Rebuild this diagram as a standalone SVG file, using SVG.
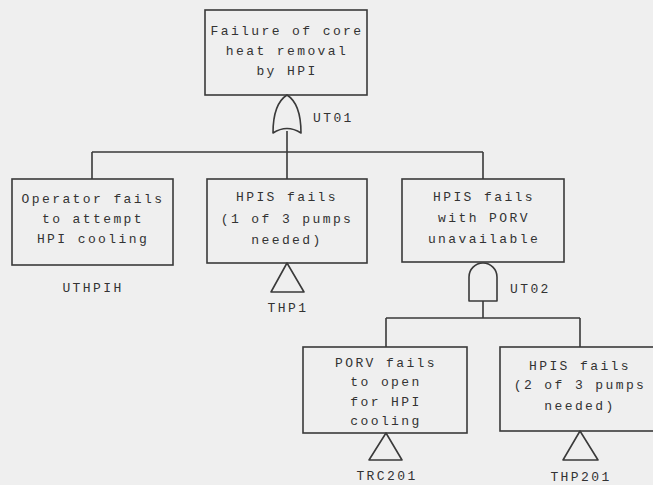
<svg xmlns="http://www.w3.org/2000/svg" width="653" height="485" viewBox="0 0 653 485">
<style>
.bg{fill:#efefef}
.box{fill:none;stroke:#3a3a3a;stroke-width:1.6}
.gate{fill:none;stroke:#3a3a3a;stroke-width:1.6;stroke-linejoin:round}
.ln{fill:none;stroke:#3a3a3a;stroke-width:1.6}
text{font-family:"Liberation Mono","DejaVu Sans Mono",monospace;font-size:13px;fill:#333;letter-spacing:2.4px}
.c{text-anchor:middle}
</style>
<rect class="bg" x="0" y="0" width="653" height="485"/>
<g id="connectors">
<path class="ln" d="M287,131 V152 M92,152 H483 M92,152 V179 M287,152 V179 M483,152 V179"/>
<path class="ln" d="M483,301 V318 M386,318 H580 M386,318 V347 M580,318 V347"/>
</g>
<g id="top">
<rect class="box" x="205" y="10" width="162" height="85"/>
<text class="c" x="287" y="34.5">Failure of core</text>
<text class="c" x="287" y="54.5">heat removal</text>
<text class="c" x="287" y="74.5">by HPI</text>
</g>
<g id="UT01">
<path class="gate" d="M287,95 C279,100 273,112 273,133 Q287,124 301,133 C301,112 295,100 287,95 Z"/>
<text x="313" y="121.5">UT01</text>
</g>
<g id="UTHPIH">
<rect class="box" x="12" y="179" width="161" height="86"/>
<text class="c" x="93" y="202.5">Operator fails</text>
<text class="c" x="93" y="222.5">to attempt</text>
<text class="c" x="93" y="242.5">HPI cooling</text>
<text class="c" x="93" y="291.5">UTHPIH</text>
</g>
<g id="THP1">
<rect class="box" x="207" y="179" width="160" height="84"/>
<text class="c" x="287" y="200.5">HPIS fails</text>
<text class="c" x="287" y="222.5">(1 of 3 pumps</text>
<text class="c" x="287" y="244">needed)</text>
<path class="gate" d="M287,263 L304,292 L271,292 Z"/>
<text class="c" x="288" y="311.5">THP1</text>
</g>
<g id="porv-unavail">
<rect class="box" x="402" y="179" width="162" height="83"/>
<text class="c" x="484" y="201">HPIS fails</text>
<text class="c" x="484" y="222">with PORV</text>
<text class="c" x="484" y="243">unavailable</text>
</g>
<g id="UT02">
<path class="gate" d="M469,301 L469,277 A14,14 0 0 1 497,277 L497,301 Z"/>
<text x="510" y="292.5">UT02</text>
</g>
<g id="TRC201">
<rect class="box" x="303" y="347" width="164" height="86"/>
<text class="c" x="386" y="366.5">PORV fails</text>
<text class="c" x="386" y="386">to open</text>
<text class="c" x="386" y="405.5">for HPI</text>
<text class="c" x="386" y="424.5">cooling</text>
<path class="gate" d="M386,433 L402,460 L369,460 Z"/>
<text class="c" x="387" y="479.5">TRC201</text>
</g>
<g id="THP201">
<rect class="box" x="500" y="347" width="160" height="84"/>
<text class="c" x="580" y="369.5">HPIS fails</text>
<text class="c" x="580" y="388.5">(2 of 3 pumps</text>
<text class="c" x="580" y="410">needed)</text>
<path class="gate" d="M580,431 L598,460 L563,460 Z"/>
<text class="c" x="581" y="480.5">THP201</text>
</g>
</svg>
